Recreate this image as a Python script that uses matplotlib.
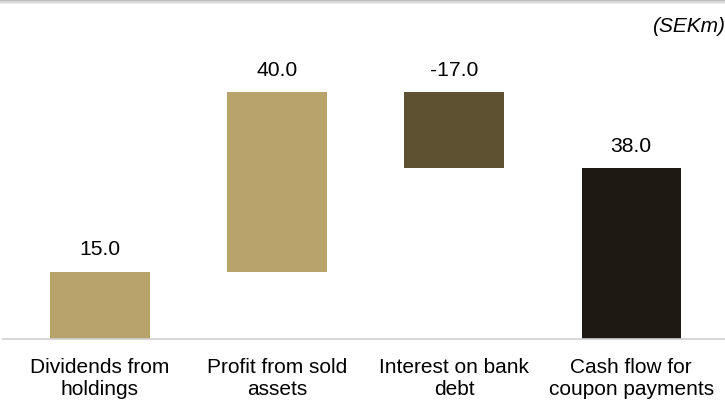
import matplotlib
matplotlib.use("Agg")
import matplotlib.pyplot as plt
from matplotlib.patches import Rectangle

# данные
categories = ["Dividends from\nholdings", "Profit from sold\nassets",
              "Interest on bank\ndebt", "Cash flow for\ncoupon payments"]
values = [15.0, 40.0, -17.0, 38.0]
colors = ["#B8A46B", "#B8A46B", "#5E5131", "#1E1A13"]

plt.rcParams["font.family"] = ["Liberation Sans", "DejaVu Sans"]

fig = plt.figure(figsize=(7.25, 4.0), dpi=100)
ax = fig.add_axes([0.004, 0.1525, 0.996, 0.8475])

# waterfall: основания столбцов
bottoms = []
run = 0.0
for i, v in enumerate(values):
    if i == len(values) - 1:
        bottoms.append(0.0)
    elif v >= 0:
        bottoms.append(run)
        run += v
    else:
        run += v
        bottoms.append(run)

heights = [abs(v) for v in values]
x = list(range(len(values)))
ax.bar(x, heights, bottom=bottoms, width=0.56, color=colors)

for xi, b, h, v in zip(x, bottoms, heights, values):
    ax.text(xi, b + h + 4.8, f"{v:.1f}", ha="center", va="center", fontsize=15.2)

ax.set_xlim(-0.548, 3.53)
ax.set_ylim(0, 75.4)
ax.set_xticks(x)
ax.set_xticklabels(categories, fontsize=15, linespacing=1.2)
ax.tick_params(axis="x", length=0, pad=13.5)
ax.set_yticks([])
for s in ["top", "right", "left"]:
    ax.spines[s].set_visible(False)
ax.spines["bottom"].set_color("#D0D0D0")
ax.spines["bottom"].set_linewidth(1.2)

fig.text(0.9, 0.935, "(SEKm)", fontsize=15, style="italic", ha="left", va="center")

# серая полоска сверху
for k, c in enumerate(["#BDBDBD", "#D8D8D8", "#EEEEEE"]):
    fig.add_artist(Rectangle((0, 1 - (k + 1) * 0.0035), 1, 0.0035,
                             transform=fig.transFigure, color=c, lw=0))

fig.savefig("out.png", dpi=100)
